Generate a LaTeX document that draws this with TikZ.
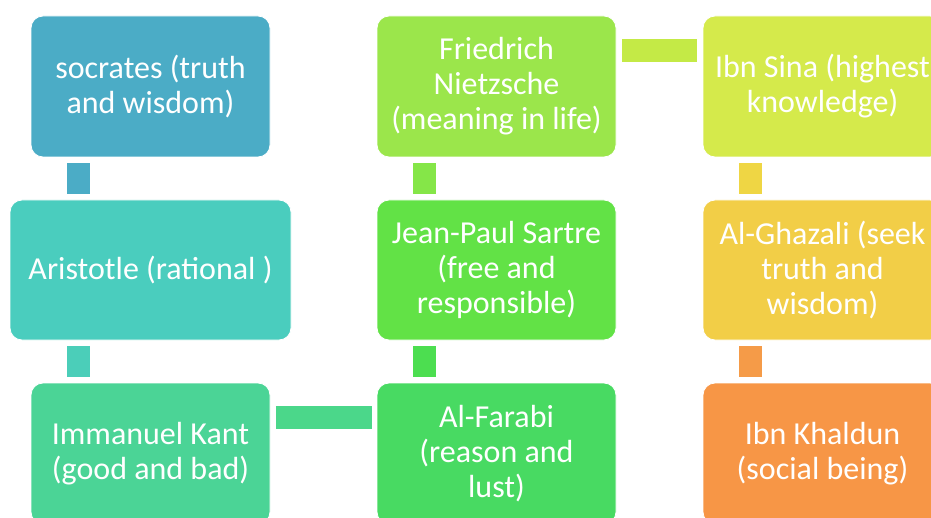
\documentclass[tikz,border=0pt]{standalone}
\usepackage{fontspec}
\setmainfont{Carlito}
\usetikzlibrary{calc}
\definecolor{cSoc}{RGB}{75,172,198}
\definecolor{cAri}{RGB}{74,205,190}
\definecolor{cAriK}{RGB}{75,206,185}
\definecolor{cKant}{RGB}{75,212,150}
\definecolor{cKF}{RGB}{75,215,138}
\definecolor{cFar}{RGB}{72,218,98}
\definecolor{cFS}{RGB}{76,222,80}
\definecolor{cSar}{RGB}{98,226,70}
\definecolor{cSN}{RGB}{133,230,72}
\definecolor{cNie}{RGB}{155,230,75}
\definecolor{cNI}{RGB}{196,234,70}
\definecolor{cIbn}{RGB}{213,234,75}
\definecolor{cIG}{RGB}{239,214,68}
\definecolor{cGha}{RGB}{242,206,71}
\definecolor{cGK}{RGB}{245,155,72}
\definecolor{cKha}{RGB}{247,150,70}
\tikzset{
  box/.style={rectangle, rounded corners=12pt, draw=white, line width=0.8pt,
    minimum width=239pt, minimum height=141pt, inner sep=0pt,
    text=white, align=center, font=\fontsize{32}{35}\selectfont},
  conn/.style={line width=23pt, line cap=butt, shorten <=6pt, shorten >=6pt}
}
\begin{document}
\begin{tikzpicture}[x=1pt,y=-1pt]
\useasboundingbox (0,0) rectangle (931,518);
\clip (0,0) rectangle (931,518);
\node[box, fill=cSoc] (soc) at (150.5,86.5) {socrates (truth\\and wisdom)};
\node[box, fill=cAri, minimum width=281pt, minimum height=140pt] (ari) at (150.5,270) {Aristotle (rational )};
\node[box, fill=cKant] (kant) at (150.5,453.5) {Immanuel Kant\\(good and bad)};
\node[box, fill=cFar] (far) at (496.5,453.5) {Al-Farabi\\(reason and\\lust)};
\node[box, fill=cSar, minimum height=140pt] (sar) at (496.5,270) {Jean-Paul Sartre\\(free and\\responsible)};
\node[box, fill=cNie] (nie) at (496.5,86.5) {Friedrich\\Nietzsche\\(meaning in life)};
\node[box, fill=cIbn] (ibn) at (822.5,86.5) {Ibn Sina (highest\\knowledge)};
\node[box, fill=cGha, minimum height=140pt] (gha) at (822.5,270) {Al-Ghazali (seek\\truth and\\wisdom)};
\node[box, fill=cKha] (kha) at (822.5,453.5) {Ibn Khaldun\\(social being)};
% connectors
\coordinate (v1) at ([xshift=47.5pt]soc.south west);
\draw[conn, cSoc] (v1) -- (v1 |- ari.north);
\coordinate (v2) at (v1 |- ari.south);
\draw[conn, cAriK] (v2) -- (v2 |- kant.north);
\coordinate (h1) at ([yshift=-34.5pt]kant.north east);
\draw[conn, cKF, shorten <=5.5pt, shorten >=5pt] (h1) -- (h1 -| far.west);
\coordinate (v3) at ([xshift=47.5pt]far.north west);
\draw[conn, cFS] (v3) -- (v3 |- sar.south);
\coordinate (v4) at (v3 |- sar.north);
\draw[conn, cSN] (v4) -- (v4 |- nie.south);
\coordinate (h2) at ([yshift=-34.5pt]nie.north east);
\draw[conn, cNI] (h2) -- (h2 -| ibn.west);
\coordinate (v5) at ([xshift=47.5pt]ibn.south west);
\draw[conn, cIG] (v5) -- (v5 |- gha.north);
\coordinate (v6) at (v5 |- gha.south);
\draw[conn, cGK] (v6) -- (v6 |- kha.north);
\end{tikzpicture}
\end{document}
